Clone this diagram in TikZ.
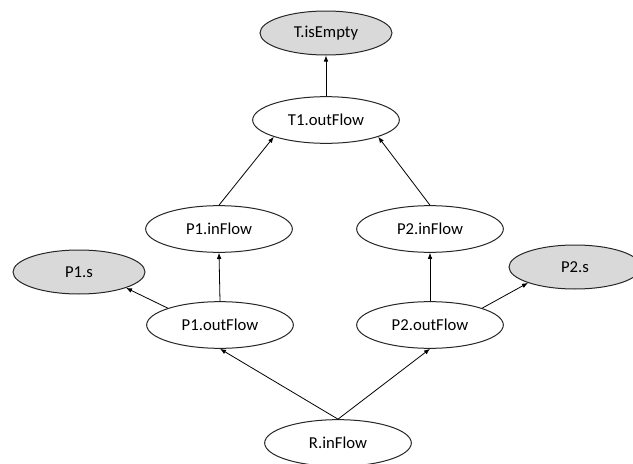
\documentclass[tikz,border=0pt]{standalone}
\usepackage{fontspec}
\setmainfont{Carlito}
\usetikzlibrary{shapes.geometric,arrows.meta}

\definecolor{obsgray}{RGB}{217,217,217}

\begin{document}
\begin{tikzpicture}[x=0.75pt,y=-0.75pt,
		flownode/.style={draw=black!85,line width=0.75pt,ellipse,fill=white,inner sep=0pt,
			minimum width=110pt,minimum height=35pt,font=\fontsize{12.5}{14}\selectfont},
		obsnode/.style={flownode,fill=obsgray,minimum width=99pt,minimum height=33pt},
		link/.style={draw=black,line width=0.6pt,-{Latex[length=4.5pt,width=3.5pt]}}]
			\useasboundingbox (0,0) rectangle (633,464);
			\clip (0,0) rectangle (633,464);
			% observed variables (grey)
			\foreach \name/\x/\y/\txt in {Tempty/326/33/T.isEmpty, P1s/79/272/P1.s, P2s/575/267/P2.s}
			{
				\node[obsnode] (\name) at (\x,\y) {\txt};
			}
			% flow variables
			\foreach \name/\x/\y/\txt in {T1out/326/120/T1.outFlow, P1in/219/229/P1.inFlow, P2in/430/229/P2.inFlow,
				P1out/220/325/P1.outFlow, P2out/430/325/P2.outFlow, Rin/338/443/R.inFlow}
			{
				\node[flownode] (\name) at (\x,\y) {\txt};
			}
			% dependencies
			\draw[link] (T1out.north) -- (Tempty.south);
			\draw[link] (P1in.north) -- (T1out.south west);
			\draw[link] (P2in.north) -- (T1out.south east);
			\draw[link] (P1out.north) -- (P1in.south);
			\draw[link] (P2out.north) -- (P2in.south);
			\draw[link] (P1out.north west) -- (P1s.south east);
			\draw[link] (P2out.north east) -- (P2s.south west);
			\draw[link] (Rin.north) -- (P1out.south);
			\draw[link] (Rin.north) -- (P2out.south);
		\end{tikzpicture}
\end{document}
